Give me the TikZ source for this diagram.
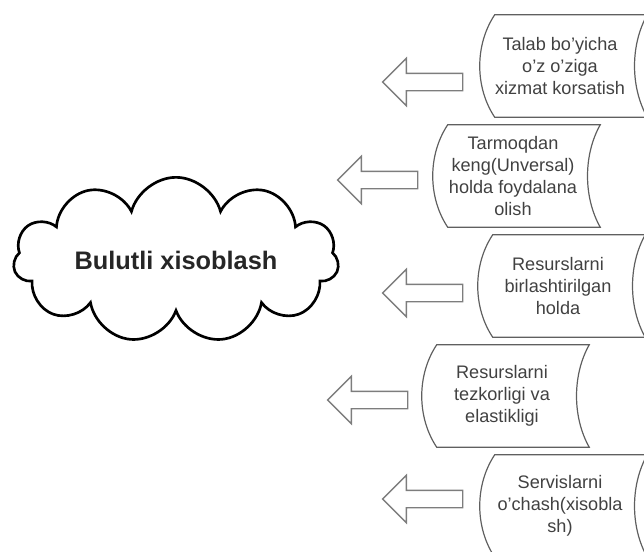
\documentclass[tikz,border=0pt]{standalone}
\usepackage{fontspec}
\setmainfont{Liberation Sans}
\usetikzlibrary{shapes.symbols}
\usetikzlibrary{shapes.arrows}

\definecolor{boxgray}{RGB}{95,95,95}
\definecolor{arrgray}{RGB}{125,125,125}
\definecolor{txtgray}{RGB}{65,65,65}

\begin{document}
\begin{tikzpicture}[x=0.75pt,y=0.75pt,yscale=-1,xscale=1,
  boxtxt/.style={align=center, text=txtgray, font=\fontsize{13.6}{16.5}\selectfont, minimum width=112.5pt, minimum height=76.5pt, inner sep=0pt},
  boxline/.style={draw=boxgray, line width=0.9pt},
  leftarr/.style={single arrow, draw=arrgray, line width=1pt, shape border rotate=180, minimum height=60pt, inner xsep=0pt, inner ysep=6pt, single arrow head extend=11.25pt}]
\useasboundingbox (0,0) rectangle (644,551);

%Shape: Cloud
\node [cloud, draw, line width=2pt, cloud puffs=11, cloud ignores aspect, minimum width=244pt, minimum height=124pt, text=black!85, font=\bfseries\fontsize{19}{22}\selectfont] (bulut) at (176,260) {Bulutli xisoblash};

% Text Node
\node [boxtxt] (talab) at (560,66) {Talab bo'yicha\\o'z o'ziga\\xizmat korsatish};
% Text Node
\node [boxtxt] (tarmoq) at (513,176) {Tarmoqdan\\keng(Unversal)\\holda foydalana\\olish};
% Text Node
\node [boxtxt] (birlash) at (558,286) {Resurslarni\\birlashtirilgan\\holda};
% Text Node
\node [boxtxt] (tezkor) at (502,396) {Resurslarni\\tezkorligi va\\elastikligi};
% Text Node
\node [boxtxt] (servis) at (560,506) {Servislarni\\o'chash(xisobla\\sh)};

%Shape: Stored data outlines
\foreach \b in {talab,tarmoq,birlash,tezkor,servis}
  \draw [boxline] ([xshift=7.5pt]\b.north west) -- ([xshift=9pt]\b.north east) .. controls +(-17,30) and +(-17,-30) .. ([xshift=9pt]\b.south east) -- ([xshift=7.5pt]\b.south west) .. controls +(-20,-30) and +(-20,30) .. cycle ;

%Shape: Block arrows
\node [leftarr] (arr1) at (427,82) {};
\node [leftarr] (arr2) at (382,180) {};
\node [leftarr] (arr3) at (427,293) {};
\node [leftarr] (arr4) at (372,400) {};
\node [leftarr] (arr5) at (427,499) {};

\end{tikzpicture}
\end{document}
